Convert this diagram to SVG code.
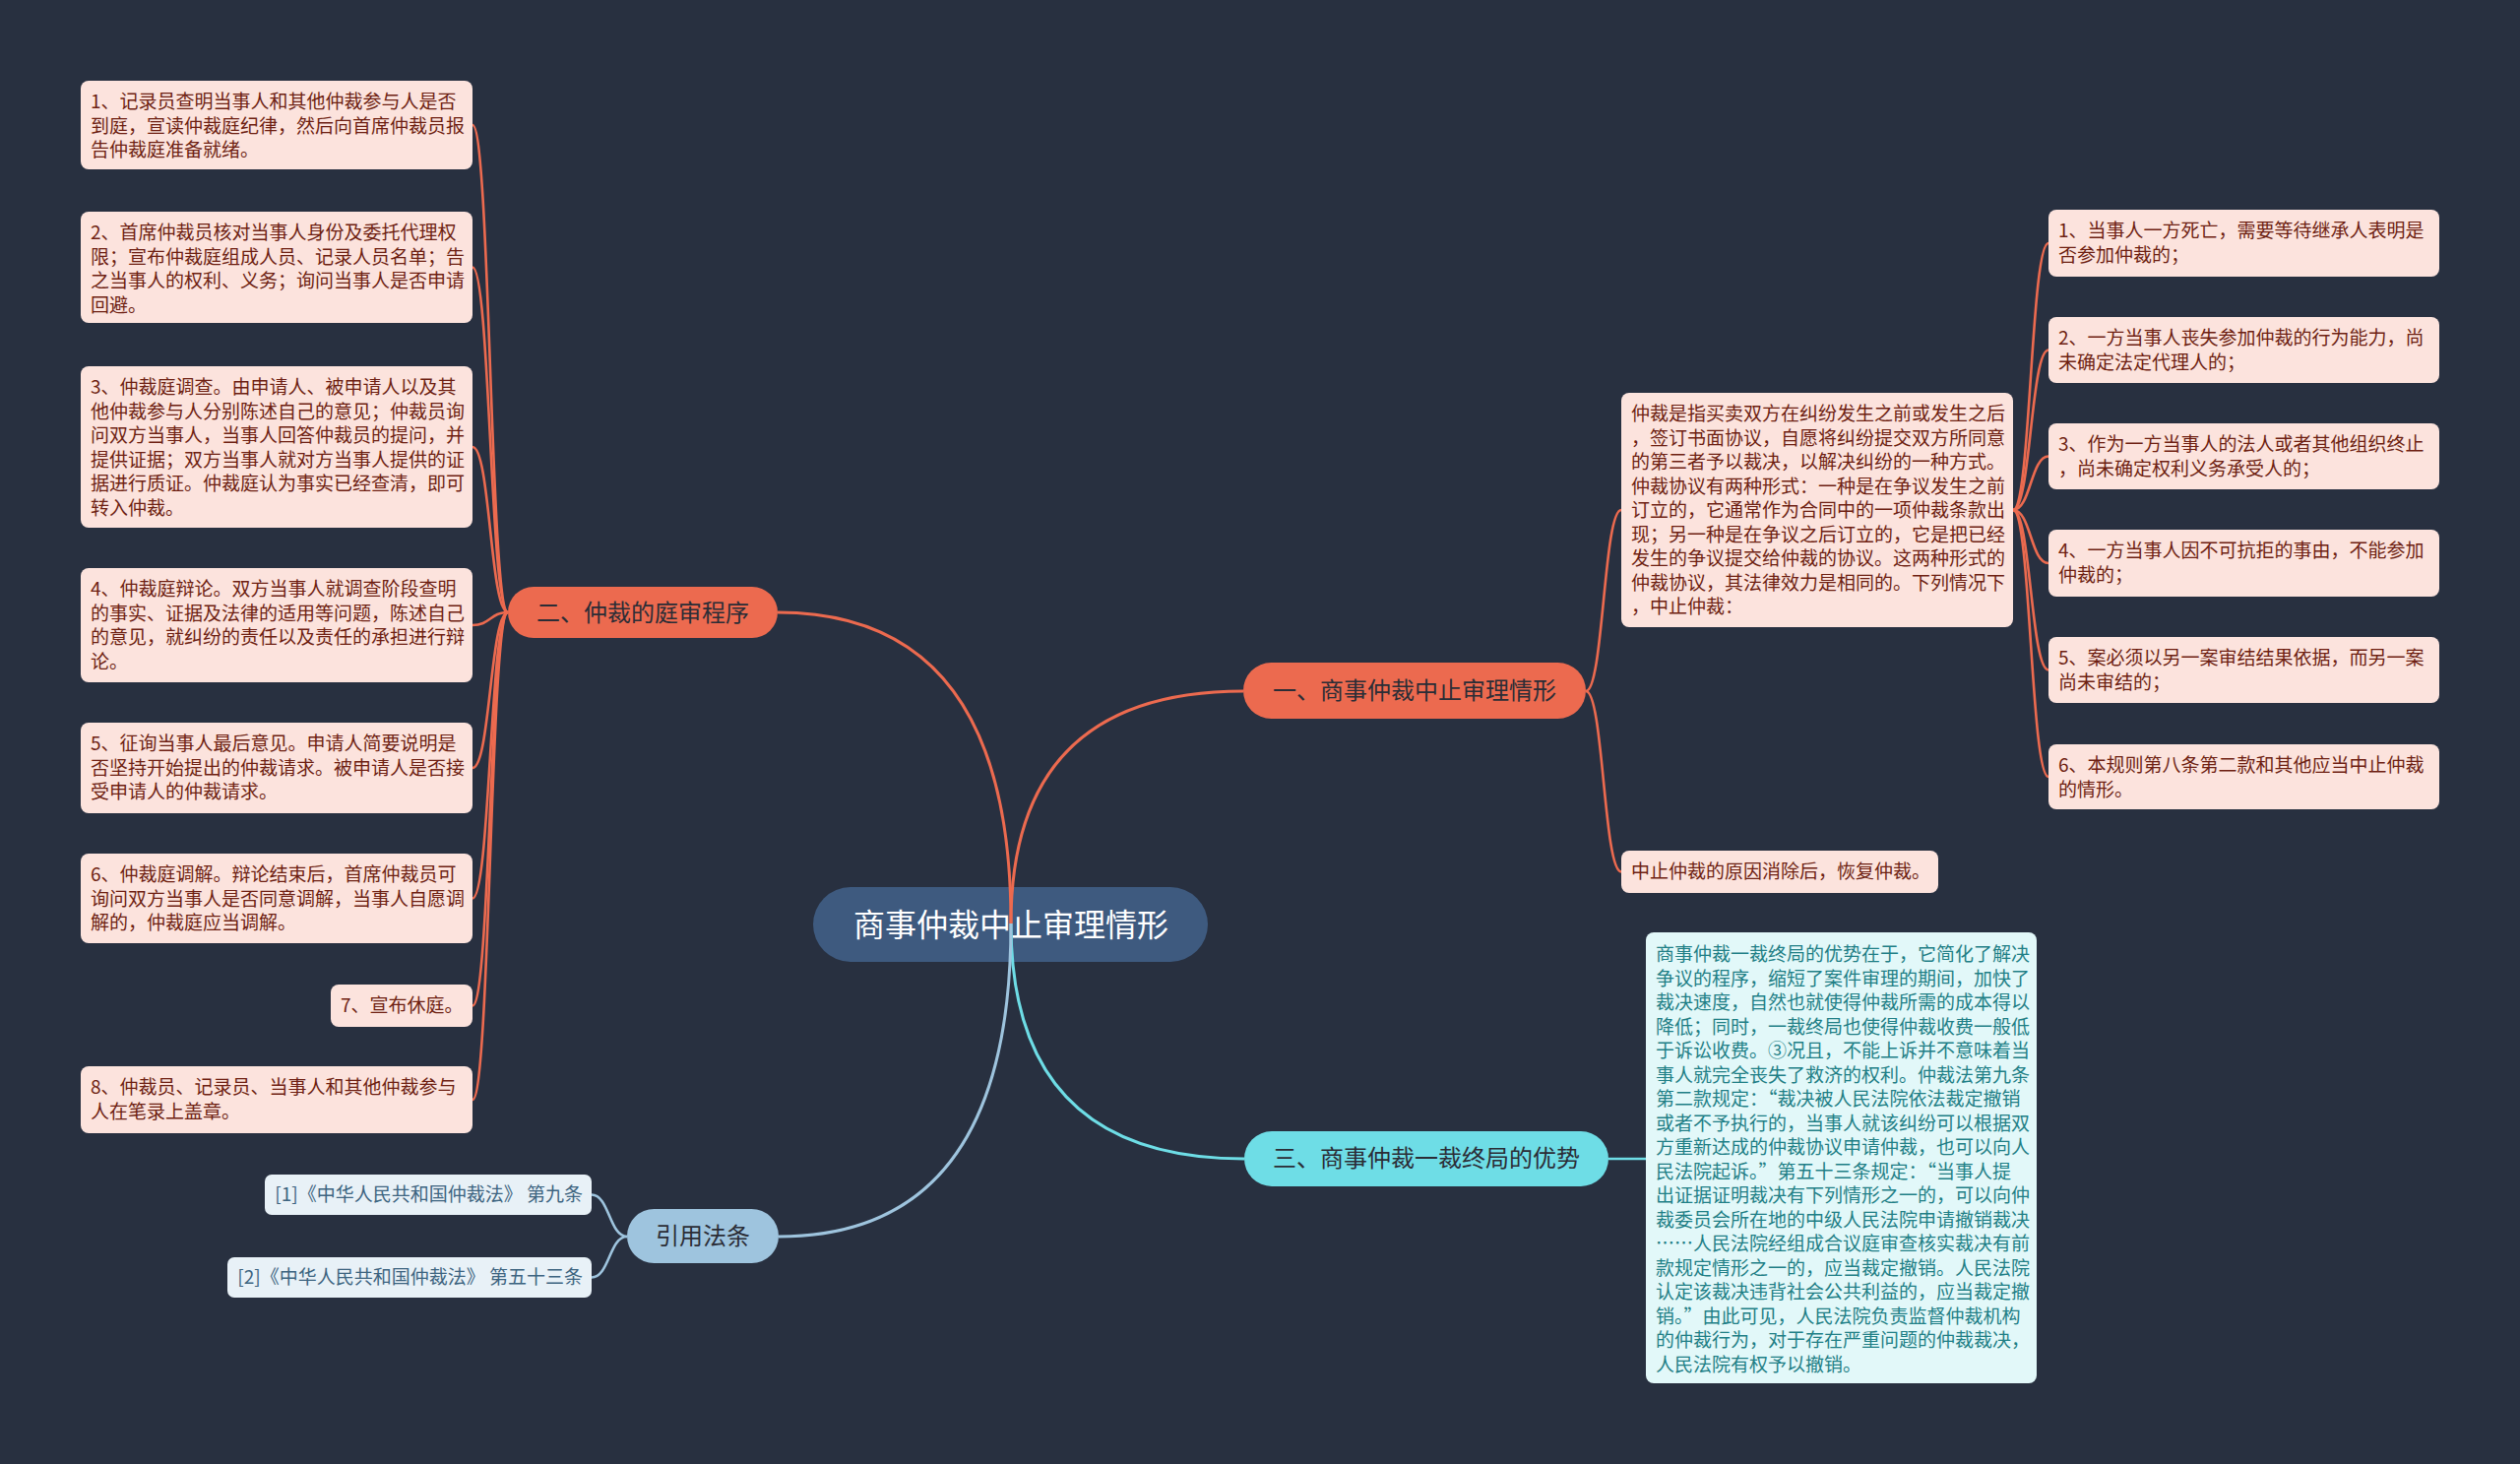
<svg xmlns="http://www.w3.org/2000/svg" width="2560" height="1487" viewBox="0 0 2560 1487">
<style>
text{font-family:"Noto Sans CJK SC","Noto Sans",sans-serif;}
.bg{fill:#283040;}
.leaf{fill:#FCE3DD;}
.lt{font-size:19px;fill:#6E1F12;}
.cy{fill:#E2F8F9;}
.ct{font-size:19px;fill:#1F7F86;}
.ref{fill:#E8F1F7;}
.rt{font-size:19px;fill:#3D6480;text-anchor:end;}
.bt{font-size:24px;fill:#2B2D36;text-anchor:middle;}
.o{fill:none;stroke:#EC6A4F;}
.c{fill:none;stroke:#6EDDE6;}
.b{fill:none;stroke:#9EC4DE;}
.m{stroke-width:3;}
.l{stroke-width:2.6;}
</style>
<rect class="bg" x="0" y="0" width="2560" height="1487"/>

<g id="root">
<rect x="826" y="901" width="401" height="76" rx="38" fill="#3E5A7F"/>
<text x="1027" y="951" font-size="32" fill="#FFFFFF" text-anchor="middle">商事仲裁中止审理情形</text>
</g>

<g id="b1">
<rect x="1263" y="673" width="348" height="57" rx="28.5" fill="#EC6A4F"/>
<text class="bt" x="1437" y="710">一、商事仲裁中止审理情形</text>
</g>
<g id="b2">
<rect x="516" y="596" width="274" height="52" rx="26" fill="#EC6A4F"/>
<text class="bt" x="653" y="631">二、仲裁的庭审程序</text>
</g>
<g id="b3">
<rect x="1264" y="1149" width="370" height="56" rx="28" fill="#6EDDE6"/>
<text class="bt" x="1449" y="1185">三、商事仲裁一裁终局的优势</text>
</g>
<g id="b4">
<rect x="637" y="1228" width="154" height="55" rx="27.5" fill="#9EC4DE"/>
<text class="bt" x="714" y="1264">引用法条</text>
</g>

<g id="l1"><rect class="leaf" x="82" y="82" width="398" height="90" rx="8"/>
<text class="lt" x="92" y="110">1、记录员查明当事人和其他仲裁参与人是否</text>
<text class="lt" x="92" y="134.5">到庭，宣读仲裁庭纪律，然后向首席仲裁员报</text>
<text class="lt" x="92" y="159">告仲裁庭准备就绪。</text></g>

<g id="l2"><rect class="leaf" x="82" y="215" width="398" height="113" rx="8"/>
<text class="lt" x="92" y="243">2、首席仲裁员核对当事人身份及委托代理权</text>
<text class="lt" x="92" y="267.5">限；宣布仲裁庭组成人员、记录人员名单；告</text>
<text class="lt" x="92" y="292">之当事人的权利、义务；询问当事人是否申请</text>
<text class="lt" x="92" y="316.5">回避。</text></g>

<g id="l3"><rect class="leaf" x="82" y="372" width="398" height="164" rx="8"/>
<text class="lt" x="92" y="400">3、仲裁庭调查。由申请人、被申请人以及其</text>
<text class="lt" x="92" y="424.5">他仲裁参与人分别陈述自己的意见；仲裁员询</text>
<text class="lt" x="92" y="449">问双方当事人，当事人回答仲裁员的提问，并</text>
<text class="lt" x="92" y="473.5">提供证据；双方当事人就对方当事人提供的证</text>
<text class="lt" x="92" y="498">据进行质证。仲裁庭认为事实已经查清，即可</text>
<text class="lt" x="92" y="522.5">转入仲裁。</text></g>

<g id="l4"><rect class="leaf" x="82" y="577" width="398" height="116" rx="8"/>
<text class="lt" x="92" y="605">4、仲裁庭辩论。双方当事人就调查阶段查明</text>
<text class="lt" x="92" y="629.5">的事实、证据及法律的适用等问题，陈述自己</text>
<text class="lt" x="92" y="654">的意见，就纠纷的责任以及责任的承担进行辩</text>
<text class="lt" x="92" y="678.5">论。</text></g>

<g id="l5"><rect class="leaf" x="82" y="734" width="398" height="92" rx="8"/>
<text class="lt" x="92" y="762">5、征询当事人最后意见。申请人简要说明是</text>
<text class="lt" x="92" y="786.5">否坚持开始提出的仲裁请求。被申请人是否接</text>
<text class="lt" x="92" y="811">受申请人的仲裁请求。</text></g>

<g id="l6"><rect class="leaf" x="82" y="867" width="398" height="91" rx="8"/>
<text class="lt" x="92" y="895">6、仲裁庭调解。辩论结束后，首席仲裁员可</text>
<text class="lt" x="92" y="919.5">询问双方当事人是否同意调解，当事人自愿调</text>
<text class="lt" x="92" y="944">解的，仲裁庭应当调解。</text></g>

<g id="l7"><rect class="leaf" x="336" y="1000" width="144" height="43" rx="8"/>
<text class="lt" x="346" y="1028">7、宣布休庭。</text></g>

<g id="l8"><rect class="leaf" x="82" y="1083" width="398" height="68" rx="8"/>
<text class="lt" x="92" y="1111">8、仲裁员、记录员、当事人和其他仲裁参与</text>
<text class="lt" x="92" y="1135.5">人在笔录上盖章。</text></g>

<g id="d1"><rect class="leaf" x="1647" y="399" width="398" height="238" rx="8"/>
<text class="lt" x="1657" y="427">仲裁是指买卖双方在纠纷发生之前或发生之后</text>
<text class="lt" x="1657" y="451.5">，签订书面协议，自愿将纠纷提交双方所同意</text>
<text class="lt" x="1657" y="476">的第三者予以裁决，以解决纠纷的一种方式。</text>
<text class="lt" x="1657" y="500.5">仲裁协议有两种形式：一种是在争议发生之前</text>
<text class="lt" x="1657" y="525">订立的，它通常作为合同中的一项仲裁条款出</text>
<text class="lt" x="1657" y="549.5">现；另一种是在争议之后订立的，它是把已经</text>
<text class="lt" x="1657" y="574">发生的争议提交给仲裁的协议。这两种形式的</text>
<text class="lt" x="1657" y="598.5">仲裁协议，其法律效力是相同的。下列情况下</text>
<text class="lt" x="1657" y="623">，中止仲裁：</text></g>

<g id="d2"><rect class="leaf" x="1647" y="864" width="322" height="43" rx="8"/>
<text class="lt" x="1657" y="892">中止仲裁的原因消除后，恢复仲裁。</text></g>

<g id="r1"><rect class="leaf" x="2081" y="213" width="397" height="68" rx="8"/>
<text class="lt" x="2091" y="241">1、当事人一方死亡，需要等待继承人表明是</text>
<text class="lt" x="2091" y="265.5">否参加仲裁的；</text></g>
<g id="r2"><rect class="leaf" x="2081" y="322" width="397" height="67" rx="8"/>
<text class="lt" x="2091" y="350">2、一方当事人丧失参加仲裁的行为能力，尚</text>
<text class="lt" x="2091" y="374.5">未确定法定代理人的；</text></g>
<g id="r3"><rect class="leaf" x="2081" y="430" width="397" height="67" rx="8"/>
<text class="lt" x="2091" y="458">3、作为一方当事人的法人或者其他组织终止</text>
<text class="lt" x="2091" y="482.5">，尚未确定权利义务承受人的；</text></g>
<g id="r4"><rect class="leaf" x="2081" y="538" width="397" height="68" rx="8"/>
<text class="lt" x="2091" y="566">4、一方当事人因不可抗拒的事由，不能参加</text>
<text class="lt" x="2091" y="590.5">仲裁的；</text></g>
<g id="r5"><rect class="leaf" x="2081" y="647" width="397" height="67" rx="8"/>
<text class="lt" x="2091" y="675">5、案必须以另一案审结结果依据，而另一案</text>
<text class="lt" x="2091" y="699.5">尚未审结的；</text></g>
<g id="r6"><rect class="leaf" x="2081" y="756" width="397" height="66" rx="8"/>
<text class="lt" x="2091" y="784">6、本规则第八条第二款和其他应当中止仲裁</text>
<text class="lt" x="2091" y="808.5">的情形。</text></g>

<g id="c1"><rect class="cy" x="1672" y="947" width="397" height="458" rx="8"/>
<text class="ct" x="1682" y="976">商事仲裁一裁终局的优势在于，它简化了解决</text>
<text class="ct" x="1682" y="1000.5">争议的程序，缩短了案件审理的期间，加快了</text>
<text class="ct" x="1682" y="1025">裁决速度，自然也就使得仲裁所需的成本得以</text>
<text class="ct" x="1682" y="1049.5">降低；同时，一裁终局也使得仲裁收费一般低</text>
<text class="ct" x="1682" y="1074">于诉讼收费。③况且，不能上诉并不意味着当</text>
<text class="ct" x="1682" y="1098.5">事人就完全丧失了救济的权利。仲裁法第九条</text>
<text class="ct" x="1682" y="1123">第二款规定：“裁决被人民法院依法裁定撤销</text>
<text class="ct" x="1682" y="1147.5">或者不予执行的，当事人就该纠纷可以根据双</text>
<text class="ct" x="1682" y="1172">方重新达成的仲裁协议申请仲裁，也可以向人</text>
<text class="ct" x="1682" y="1196.5">民法院起诉。”第五十三条规定：“当事人提</text>
<text class="ct" x="1682" y="1221">出证据证明裁决有下列情形之一的，可以向仲</text>
<text class="ct" x="1682" y="1245.5">裁委员会所在地的中级人民法院申请撤销裁决</text>
<text class="ct" x="1682" y="1270">……人民法院经组成合议庭审查核实裁决有前</text>
<text class="ct" x="1682" y="1294.5">款规定情形之一的，应当裁定撤销。人民法院</text>
<text class="ct" x="1682" y="1319">认定该裁决违背社会公共利益的，应当裁定撤</text>
<text class="ct" x="1682" y="1343.5">销。”由此可见，人民法院负责监督仲裁机构</text>
<text class="ct" x="1682" y="1368">的仲裁行为，对于存在严重问题的仲裁裁决，</text>
<text class="ct" x="1682" y="1392.5">人民法院有权予以撤销。</text></g>

<g id="f1"><rect class="ref" x="269" y="1193" width="332" height="41" rx="7"/>
<text class="rt" x="592" y="1220">[1]《中华人民共和国仲裁法》 第九条</text></g>
<g id="f2"><rect class="ref" x="231" y="1277" width="370" height="41" rx="7"/>
<text class="rt" x="592" y="1304">[2]《中华人民共和国仲裁法》 第五十三条</text></g>

<g id="connectors">
<path class="o m" d="M1027,938 Q1027,702 1263,702"/>
<path class="o m" d="M1027,938 Q1027,622 790,622"/>
<path class="c m" d="M1027,938 Q1027,1177 1264,1177"/>
<path class="b m" d="M1027,938 Q1027,1256 791,1256"/>

<path class="o l" d="M516,622 C498,622 498,127 480,127"/>
<path class="o l" d="M516,622 C498,622 498,271.5 480,271.5"/>
<path class="o l" d="M516,622 C498,622 498,454 480,454"/>
<path class="o l" d="M516,622 C498,622 498,635 480,635"/>
<path class="o l" d="M516,622 C498,622 498,780 480,780"/>
<path class="o l" d="M516,622 C498,622 498,912.5 480,912.5"/>
<path class="o l" d="M516,622 C498,622 498,1021.5 480,1021.5"/>
<path class="o l" d="M516,622 C498,622 498,1117 480,1117"/>

<path class="o l" d="M1611,702 C1629,702 1629,518 1647,518"/>
<path class="o l" d="M1611,702 C1629,702 1629,885.5 1647,885.5"/>

<path class="o l" d="M2045,518 C2063,518 2063,247 2081,247"/>
<path class="o l" d="M2045,518 C2063,518 2063,355.5 2081,355.5"/>
<path class="o l" d="M2045,518 C2063,518 2063,463.5 2081,463.5"/>
<path class="o l" d="M2045,518 C2063,518 2063,572 2081,572"/>
<path class="o l" d="M2045,518 C2063,518 2063,680.5 2081,680.5"/>
<path class="o l" d="M2045,518 C2063,518 2063,789 2081,789"/>

<path class="c l" d="M1634,1177 L1672,1177"/>

<path class="b l" d="M637,1256 C619,1256 619,1213.5 601,1213.5"/>
<path class="b l" d="M637,1256 C619,1256 619,1297.5 601,1297.5"/>
</g>
</svg>
